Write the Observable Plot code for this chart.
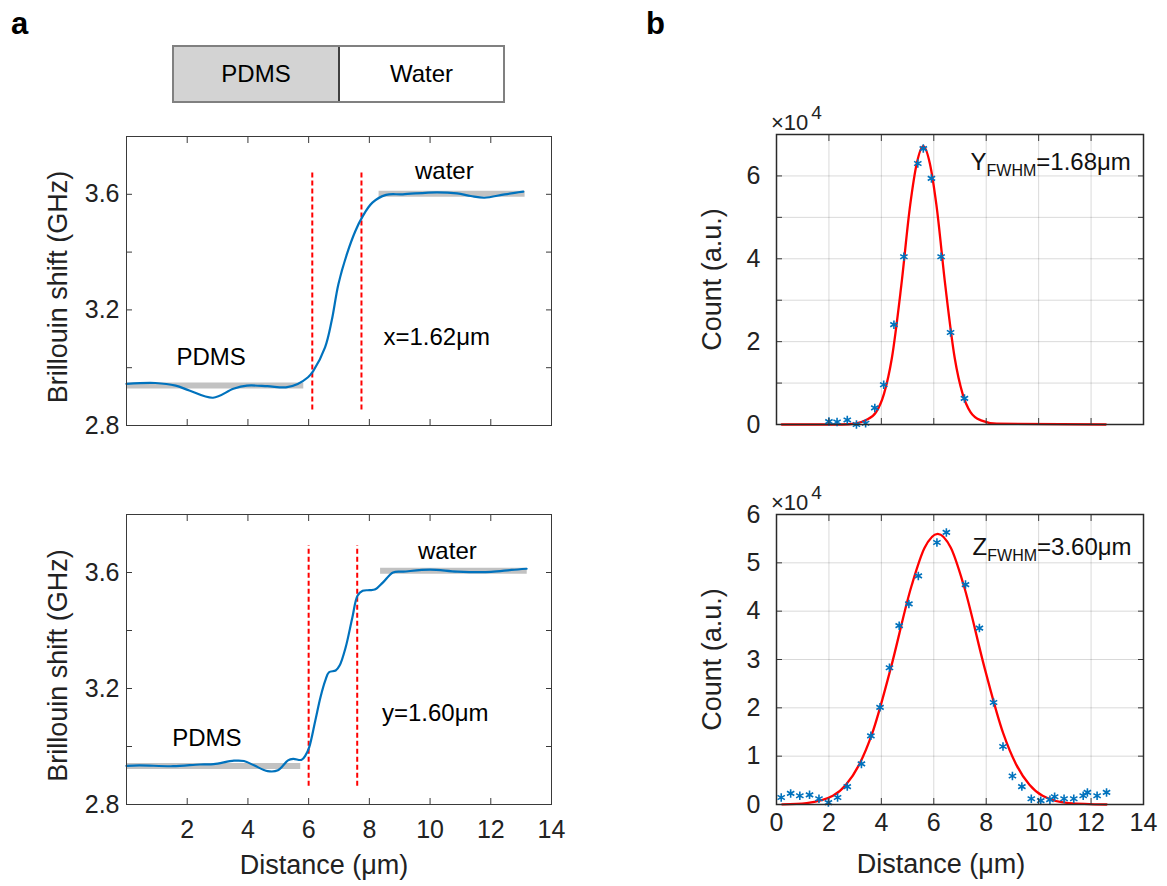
<!DOCTYPE html>
<html>
<head>
<meta charset="utf-8">
<script src="https://cdn.jsdelivr.net/npm/d3@7"></script>
<script src="https://cdn.jsdelivr.net/npm/@observablehq/plot@0.6"></script>
<style>
  body { margin: 0; background: #fff; }
  #root { position: relative; width: 1167px; height: 886px; overflow: hidden; font-family: 'Liberation Sans', Arial, Helvetica, sans-serif; color: #000; }
  .panel { position: absolute; }
  .panel svg { display: block; overflow: visible; }
  .tag { position: absolute; font-weight: bold; font-size: 31px; line-height: 1; }
  .exp { position: absolute; font-size: 22px; line-height: 1; color: #222; }
  .exp sup { font-size: 19px; position: relative; top: -3px; margin-left: 3px; }
  .boxrow { position: absolute; left: 172px; top: 45px; width: 333px; height: 58px; border: 2px solid #808080; box-sizing: border-box; display: flex; font-size: 24px; }
  .boxrow div { display: flex; align-items: center; justify-content: center; }
</style>
</head>
<body>
<div id="root">
  <div class="tag" style="left:11px;top:8px;">a</div>
  <div class="tag" style="left:646px;top:8px;">b</div>
  <div class="boxrow">
    <div id="boxL" style="width:164px;background:#d3d3d3;border-right:2px solid #404040;"></div>
    <div id="boxR" style="flex:1;background:#fff;"></div>
  </div>
</div>
<script>
// ---------------- DATA ----------------
const materials = ["PDMS", "Water"];

// Panel a (top): lateral x scan, Brillouin shift (GHz) vs distance (µm)
const xScanDist  = [0, 0.95, 1.62, 2.07, 2.85, 3.52, 3.97, 4.64, 5.25, 5.64, 5.98, 6.15, 6.54, 6.76, 6.98, 7.26, 7.54, 7.77, 8.1, 8.55, 9.1, 10.22, 10.89, 11.34, 11.79, 12.46, 13.07];
const xScanShift = [2.944, 2.947, 2.938, 2.921, 2.896, 2.927, 2.938, 2.936, 2.932, 2.944, 2.967, 2.988, 3.07, 3.163, 3.289, 3.393, 3.473, 3.522, 3.571, 3.598, 3.6, 3.607, 3.603, 3.594, 3.588, 3.6, 3.609];
const xEdges = [6.12, 7.74];
const xEdgeY1 = 2.854, xEdgeY2 = 3.68;
const xBarsX1 = [0, 8.32], xBarsX2 = [5.84, 13.13], xBarsY = [2.938, 3.602];
const xLabelsText = ["PDMS", "water", "x=1.62μm"];
const xLabelsX = [2.79, 10.47, 10.22];
const xLabelsY = [3.036, 3.68, 3.105];

// Panel a (bottom): lateral y scan
const yScanDist  = [0, 0.42, 1.53, 2.42, 2.87, 3.54, 3.87, 4.2, 4.65, 4.99, 5.32, 5.49, 5.77, 5.9, 6.02, 6.22, 6.39, 6.55, 6.67, 6.89, 7.02, 7.22, 7.44, 7.61, 7.78, 8.0, 8.2, 8.45, 8.78, 9.12, 10.0, 10.9, 12.01, 12.68, 13.18];
const yScanShift = [2.933, 2.935, 2.932, 2.938, 2.939, 2.951, 2.95, 2.935, 2.915, 2.918, 2.952, 2.957, 2.954, 2.97, 2.998, 3.09, 3.17, 3.228, 3.256, 3.262, 3.279, 3.342, 3.445, 3.52, 3.537, 3.539, 3.542, 3.566, 3.6, 3.603, 3.61, 3.603, 3.602, 3.609, 3.613];
const yEdges = [6.0, 7.6];
const yEdgeY1 = 2.863, yEdgeY2 = 3.692;
const yBarsX1 = [0, 8.37], yBarsX2 = [5.74, 13.2], yBarsY = [2.933, 3.606];
const yLabelsText = ["PDMS", "water", "y=1.60μm"];
const yLabelsX = [2.65, 10.57, 10.17];
const yLabelsY = [3.027, 3.674, 3.113];

const shiftTicks = [2.8, 3.0, 3.2, 3.4, 3.6];
const shiftTickLabels = [2.8, 3.2, 3.6];
const distTicks = [2, 4, 6, 8, 10, 12];
const distTickLabelsA = [2, 4, 6, 8, 10, 12, 14];
const distTickLabelsB = [0, 2, 4, 6, 8, 10, 12, 14];

// Panel b (top): Y profile counts (×10^4)
const yPsfX = [2.0, 2.31, 2.7, 3.05, 3.4, 3.75, 4.09, 4.48, 4.86, 5.39, 5.6, 5.91, 6.28, 6.64, 7.17];
const yPsfCount = [0.07, 0.06, 0.11, 0.0, 0.03, 0.40, 0.96, 2.41, 4.05, 6.30, 6.66, 5.94, 4.05, 2.22, 0.63];
const yFitX = [0.2, 2.5, 3.0, 3.4, 3.8, 4.1, 4.4, 4.76, 5.1, 5.35, 5.6, 5.85, 6.1, 6.44, 6.8, 7.1, 7.4, 7.8, 8.4, 12.56];
const yFitCount = [0, 0, 0.02, 0.1, 0.3, 0.74, 1.6, 3.35, 5.3, 6.3, 6.72, 6.3, 5.3, 3.35, 1.6, 0.74, 0.3, 0.1, 0.02, 0];
const yFwhm = {main: "Y", sub: "FWHM", rest: "=1.68μm", x: 7.4, y: 6.34};

// Panel b (bottom): Z profile counts (×10^4)
const zPsfX = [0.18, 0.54, 0.89, 1.26, 1.62, 1.98, 2.33, 2.7, 3.24, 3.6, 3.95, 4.31, 4.68, 5.05, 5.41, 6.12, 6.48, 7.21, 7.74, 8.28, 8.64, 9.0, 9.36, 9.72, 10.08, 10.43, 10.61, 10.97, 11.34, 11.7, 11.86, 12.23, 12.59];
const zPsfCount = [0.145, 0.23, 0.18, 0.2, 0.12, 0.04, 0.145, 0.37, 0.84, 1.42, 2.01, 2.83, 3.7, 4.15, 4.73, 5.42, 5.63, 4.55, 3.65, 2.11, 1.2, 0.59, 0.37, 0.12, 0.08, 0.1, 0.16, 0.12, 0.12, 0.18, 0.25, 0.18, 0.25];
const zFitX = [0.22, 1.15, 2.15, 2.65, 3.15, 3.65, 4.35, 5.15, 5.65, 6.15, 6.65, 7.15, 7.95, 8.65, 9.15, 9.65, 10.15, 11.15, 12.59];
const zFitCount = [0.003, 0.03, 0.18, 0.41, 0.82, 1.47, 2.8, 4.52, 5.31, 5.6, 5.31, 4.52, 2.8, 1.47, 0.82, 0.41, 0.18, 0.03, 0];
const zFwhm = {main: "Z", sub: "FWHM", rest: "=3.60μm", x: 7.48, y: 5.32};

const countTicksTop = [0, 1, 2, 3, 4, 5, 6, 7];
const countLabelsTop = [0, 2, 4, 6];
const countTicksBot = [0, 1, 2, 3, 4, 5, 6];
const countLabelsBot = [0, 1, 2, 3, 4, 5, 6];

// ---------------- DRAWING ----------------
const FONT = "'Liberation Sans', Arial, Helvetica, sans-serif";
const BLUE = "#0072bd", RED = "#ff0000", AX = "#3a3a3a";
const TICK_FS = 25, TITLE_FS = 27;
const root = document.getElementById("root");
document.getElementById("boxL").textContent = materials[0];
document.getElementById("boxR").textContent = materials[1];

const zip = (xs, ys) => xs.map((x, i) => ({x, y: ys[i]}));
const blank = () => "";

function place(el, left, top) {
  const d = document.createElement("div");
  d.className = "panel";
  d.style.left = left + "px";
  d.style.top = top + "px";
  d.appendChild(el);
  root.appendChild(d);
}

function leftPanel({dist, shift, edges, e1, e2, bx1, bx2, by, lt, lx, ly, showX, top, height, mt, mb}) {
  const bars = bx1.map((v, i) => ({x1: v, x2: bx2[i], y: by[i]}));
  const reds = edges.map(x => ({x, y1: e1, y2: e2}));
  const labels = lt.map((t, i) => ({t, x: lx[i], y: ly[i]}));
  const marks = [
    Plot.ruleY(bars, {x1: "x1", x2: "x2", y: "y", stroke: "#c2c2c2", strokeWidth: 6}),
    Plot.ruleX(reds, {x: "x", y1: "y1", y2: "y2", stroke: RED, strokeWidth: 2, strokeDasharray: "5,3"}),
    Plot.line(zip(dist, shift), {x: "x", y: "y", stroke: BLUE, strokeWidth: 2.2, curve: "catmull-rom"}),
    Plot.text(labels, {x: "x", y: "y", text: "t", fontSize: 24, fill: "#000"}),
    Plot.axisY(shiftTicks, {anchor: "left", tickSize: -6, tickFormat: blank, stroke: AX, label: null}),
    Plot.axisY(shiftTicks, {anchor: "right", tickSize: -6, tickFormat: blank, stroke: AX, label: null}),
    Plot.axisY(shiftTickLabels, {anchor: "left", tickSize: 0, tickPadding: 7, tickFormat: d3.format(".1f"), fontSize: TICK_FS, fill: "#222", label: null}),
    Plot.axisX(distTicks, {anchor: "bottom", tickSize: -6, tickFormat: blank, stroke: AX, label: null}),
    Plot.axisX(distTicks, {anchor: "top", tickSize: -6, tickFormat: blank, stroke: AX, label: null}),
    Plot.frame({stroke: AX, strokeWidth: 1}),
    Plot.text(["Brillouin shift (GHz)"], {frameAnchor: "left", rotate: -90, textAnchor: "middle", lineAnchor: "middle", dx: -68, dy: 6, fontSize: TITLE_FS, fill: "#222"})
  ];
  if (showX) {
    marks.push(Plot.axisX(distTickLabelsA, {anchor: "bottom", tickSize: 0, tickPadding: 16, fontSize: TICK_FS, fill: "#222", label: null}));
    marks.push(Plot.text(["Distance (μm)"], {frameAnchor: "bottom", textAnchor: "middle", lineAnchor: "middle", dy: 61, dx: -15, fontSize: TITLE_FS, fill: "#222"}));
  }
  const p = Plot.plot({
    width: 600, height, marginLeft: 126, marginRight: 49, marginTop: mt, marginBottom: mb,
    x: {domain: [0, 14], label: null}, y: {domain: [2.8, 3.8], label: null},
    style: {fontFamily: FONT, fontSize: TICK_FS + "px", color: "#222", background: "transparent", overflow: "visible"},
    marks
  });
  place(p, 0, top);
}

function rightPanel({px, pc, fx, fc, fw, yMax, yTicks, yLabels, showX, top, height, mt, mb}) {
  const marks = [
    Plot.ruleY(yTicks.filter(v => v > 0 && v < yMax), {y: d => d, stroke: "#000", strokeOpacity: 0.15, strokeWidth: 1}),
    Plot.ruleX(distTicks, {x: d => d, stroke: "#000", strokeOpacity: 0.15, strokeWidth: 1}),
    Plot.line(zip(fx, fc), {x: "x", y: "y", stroke: RED, strokeWidth: 2.3, curve: "monotone-x"}),
    Plot.dot(zip(px, pc), {x: "x", y: "y", symbol: "asterisk", r: 4, stroke: BLUE, strokeWidth: 1.6}),
    Plot.text([fw], {x: "x", y: "y", text: d => d.main + d.sub + d.rest, textAnchor: "start", fontSize: 24, fill: "#111"}),
    Plot.axisY(yTicks, {anchor: "left", tickSize: -6, tickFormat: blank, stroke: AX, label: null}),
    Plot.axisY(yTicks, {anchor: "right", tickSize: -6, tickFormat: blank, stroke: AX, label: null}),
    Plot.axisY(yLabels, {anchor: "left", tickSize: 0, tickPadding: 16, fontSize: TICK_FS, fill: "#222", label: null}),
    Plot.axisX(distTicks, {anchor: "bottom", tickSize: -6, tickFormat: blank, stroke: AX, label: null}),
    Plot.axisX(distTicks, {anchor: "top", tickSize: -6, tickFormat: blank, stroke: AX, label: null}),
    Plot.frame({stroke: "#2a2a2a", strokeWidth: 1.5}),
    Plot.text(["Count (a.u.)"], {frameAnchor: "left", rotate: -90, textAnchor: "middle", lineAnchor: "middle", dx: -64, fontSize: TITLE_FS, fill: "#222"})
  ];
  if (showX) {
    marks.push(Plot.axisX(distTickLabelsB, {anchor: "bottom", tickSize: 0, tickPadding: 9, fontSize: TICK_FS, fill: "#222", label: null}));
    marks.push(Plot.text(["Distance (μm)"], {frameAnchor: "bottom", textAnchor: "middle", lineAnchor: "middle", dy: 60, dx: -19, fontSize: TITLE_FS, fill: "#222"}));
  }
  const p = Plot.plot({
    width: 527, height, marginLeft: 136, marginRight: 24, marginTop: mt, marginBottom: mb,
    x: {domain: [0, 14], label: null}, y: {domain: [0, yMax], label: null},
    style: {fontFamily: FONT, fontSize: TICK_FS + "px", color: "#222", background: "transparent", overflow: "visible"},
    marks
  });
  // subscript for FWHM annotation
  d3.select(p).selectAll("text").filter(function () { return this.textContent === fw.main + fw.sub + fw.rest; })
    .each(function () {
      const t = d3.select(this);
      t.text("");
      t.append("tspan").text(fw.main);
      t.append("tspan").attr("font-size", 16).attr("dy", 6).text(fw.sub);
      t.append("tspan").attr("dy", -6).text(fw.rest);
    });
  place(p, 640, top);
  const e = document.createElement("div");
  e.className = "exp";
  e.style.left = "771px";
  e.style.top = (top + mt - 28) + "px";
  e.innerHTML = "×10<sup>4</sup>";
  root.appendChild(e);
}

leftPanel({dist: xScanDist, shift: xScanShift, edges: xEdges, e1: xEdgeY1, e2: xEdgeY2,
  bx1: xBarsX1, bx2: xBarsX2, by: xBarsY, lt: xLabelsText, lx: xLabelsX, ly: xLabelsY,
  showX: false, top: 100, height: 350, mt: 36, mb: 25});
leftPanel({dist: yScanDist, shift: yScanShift, edges: yEdges, e1: yEdgeY1, e2: yEdgeY2,
  bx1: yBarsX1, bx2: yBarsX2, by: yBarsY, lt: yLabelsText, lx: yLabelsX, ly: yLabelsY,
  showX: true, top: 480, height: 406, mt: 34, mb: 82});
rightPanel({px: yPsfX, pc: yPsfCount, fx: yFitX, fc: yFitCount, fw: yFwhm, yMax: 7,
  yTicks: countTicksTop, yLabels: countLabelsTop, showX: false, top: 100, height: 350, mt: 34, mb: 26});
rightPanel({px: zPsfX, pc: zPsfCount, fx: zFitX, fc: zFitCount, fw: zFwhm, yMax: 6,
  yTicks: countTicksBot, yLabels: countLabelsBot, showX: true, top: 480, height: 406, mt: 34, mb: 82});
</script>
</body>
</html>
